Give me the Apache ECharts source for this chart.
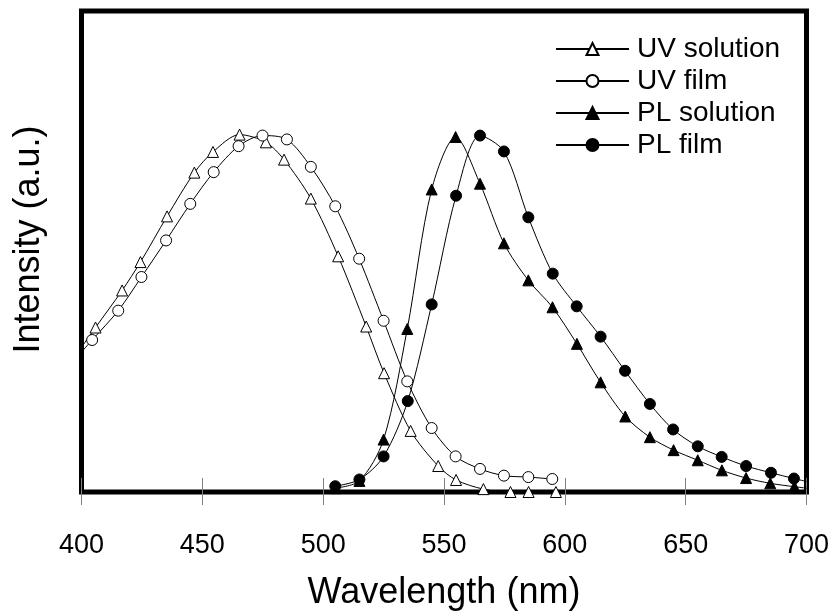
<!DOCTYPE html>
<html>
<head>
<meta charset="utf-8">
<script src="https://cdn.jsdelivr.net/npm/echarts@6/dist/echarts.min.js"></script>
<style>
html,body{margin:0;padding:0;background:#fff;}
#chart{width:836px;height:616px;}
</style>
</head>
<body>
<div id="chart"></div>
<script>
// ---- data ----
const seriesNames = ['UV solution', 'UV film', 'PL solution', 'PL film'];
const xTicks = [400, 450, 500, 550, 600, 650, 700];

const uvSolutionX = [400, 405.8, 416.8, 424.4, 435.4, 446.7, 454.4, 465.4, 476.3, 483.8, 494.9, 506.2, 517.8, 525.2, 536.2, 547.6, 555, 566.3, 577.5, 585, 596.3];
const uvSolutionY = [30.1, 34.2, 41.9, 47.8, 57.3, 66.4, 70.7, 74.3, 72.7, 69.1, 61.0, 49.0, 34.4, 24.7, 12.7, 5.4, 2.5, 0.6, 0, 0, 0];

const uvFilmX = [400, 404.4, 415.2, 424.8, 435, 445, 454.7, 465, 474.9, 485, 494.9, 505, 514.9, 525, 534.8, 544.9, 554.8, 564.9, 574.8, 584.9, 594.8];
const uvFilmY = [29.1, 31.6, 37.7, 44.7, 52.3, 59.9, 66.5, 71.9, 74.1, 73.3, 67.6, 59.4, 48.5, 35.6, 23.0, 13.3, 7.4, 4.8, 3.4, 3.1, 2.7];

const plSolutionX = [505, 515, 525, 534.8, 544.9, 554.8, 564.9, 574.8, 584.9, 594.9, 605, 614.8, 625, 635.2, 645, 655, 665, 675, 685, 695, 700];
const plSolutionY = [0.8, 2.3, 10.9, 33.9, 62.9, 73.8, 64.1, 51.7, 44.0, 38.4, 30.8, 22.8, 15.7, 11.4, 8.7, 6.6, 4.5, 2.9, 1.8, 1.1, 0.8];

const plFilmX = [505, 515, 525, 535, 544.9, 555, 564.9, 574.8, 584.9, 595, 604.9, 614.8, 624.9, 635.2, 644.8, 655, 664.9, 675, 685.3, 694.8, 700];
const plFilmY = [1.2, 2.6, 7.4, 18.9, 39.0, 61.6, 74.1, 70.8, 57.1, 45.4, 38.6, 32.3, 25.2, 18.3, 13.0, 9.5, 7.3, 5.4, 4.0, 2.8, 2.2];

// ---- chart ----
const X_MIN = xTicks[0], X_MAX = xTicks[xTicks.length - 1];
const FONT = '"Liberation Sans", Arial, sans-serif';

function pts(xs, ys) {
  return xs.map((x, i) => {
    const item = { value: [x, ys[i]] };
    if (x <= X_MIN || x >= X_MAX) item.symbol = 'none'; // line continues to frame edge, no marker there
    return item;
  });
}

function mk(name, xs, ys, symbol, filled) {
  return {
    name: name,
    type: 'line',
    xAxisIndex: 0,
    data: pts(xs, ys),
    smooth: 0.3,
    symbol: symbol,
    symbolSize: 11,
    showAllSymbol: true,
    lineStyle: { color: '#000', width: 1 },
    itemStyle: { color: filled ? '#000' : '#fff', borderColor: '#000', borderWidth: 1 },
    emphasis: { disabled: true },
    animation: false,
    z: 3
  };
}

const chart = echarts.init(document.getElementById('chart'), null, { renderer: 'canvas' });
chart.setOption({
  backgroundColor: '#fff',
  animation: false,
  grid: {
    left: 81.5, right: 29.5, top: 11, bottom: 120,
    show: true, borderColor: '#000', borderWidth: 5, backgroundColor: 'transparent'
  },
  legend: {
    data: seriesNames,
    orient: 'vertical',
    left: 555, top: 35, padding: 0,
    itemWidth: 73, itemHeight: 15, itemGap: 4,
    textStyle: { fontFamily: FONT, fontSize: 28, color: '#000', lineHeight: 27, padding: [0, 0, 0, 3] },
    selectedMode: false,
    inactiveColor: '#000'
  },
  xAxis: [
    {
      type: 'value', position: 'bottom',
      min: X_MIN, max: X_MAX, interval: 50,
      axisLine: { show: false },
      axisTick: { show: true, inside: false, length: 13, lineStyle: { color: '#808080', width: 1 } },
      axisLabel: { show: true, fontFamily: FONT, fontSize: 27, color: '#000', margin: 40 },
      splitLine: { show: false },
      name: 'Wavelength (nm)', nameLocation: 'middle', nameGap: 83,
      nameTextStyle: { fontFamily: FONT, fontSize: 36, color: '#000' }
    },
    {
      type: 'value', position: 'bottom',
      min: X_MIN, max: X_MAX, interval: 50,
      axisLine: { show: false },
      axisTick: { show: true, inside: true, length: 14, lineStyle: { color: '#808080', width: 1 } },
      axisLabel: { show: false },
      splitLine: { show: false }
    }
  ],
  yAxis: {
    type: 'value', min: 0, max: 100,
    axisLine: { show: false }, axisTick: { show: false }, axisLabel: { show: false },
    splitLine: { show: false },
    name: 'Intensity (a.u.)', nameLocation: 'middle', nameGap: 34, nameRotate: 90,
    nameTextStyle: { fontFamily: FONT, fontSize: 36, color: '#000', padding: [0, 0, 0, 24] }
  },
  series: [
    mk(seriesNames[0], uvSolutionX, uvSolutionY, 'triangle', false),
    mk(seriesNames[1], uvFilmX, uvFilmY, 'circle', false),
    mk(seriesNames[2], plSolutionX, plSolutionY, 'triangle', true),
    mk(seriesNames[3], plFilmX, plFilmY, 'circle', true)
  ]
});
</script>
</body>
</html>
